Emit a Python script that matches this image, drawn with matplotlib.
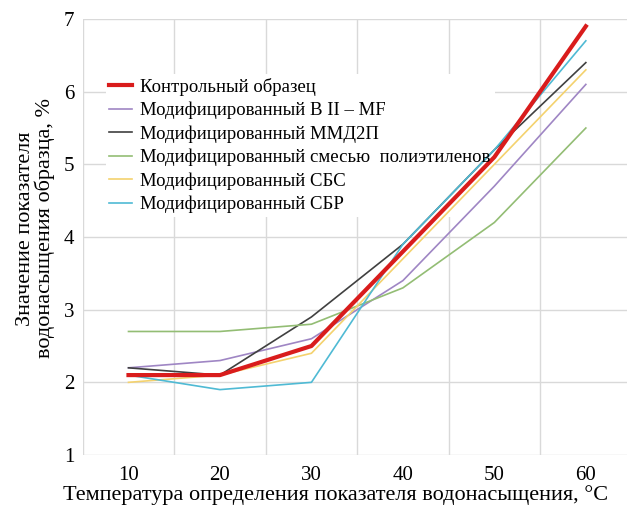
import numpy as np
from matplotlib import pyplot as plt

# температура определения, °C
temperatura = [10, 20, 30, 40, 50, 60]

# значения показателя водонасыщения, %
kontrol = [2.1, 2.1, 2.5, 3.8, 5.1, 6.9]
mod_b2mf = [2.2, 2.3, 2.6, 3.4, 4.7, 6.1]
mod_mmd2p = [2.2, 2.1, 2.9, 3.9, 5.2, 6.4]
mod_pe = [2.7, 2.7, 2.8, 3.3, 4.2, 5.5]
mod_sbs = [2.0, 2.1, 2.4, 3.7, 5.0, 6.3]
mod_sbr = [2.1, 1.9, 2.0, 3.9, 5.2, 6.7]

nomi = ["Контрольный образец",
        "Модифицированный В II – MF",
        "Модифицированный ММД2П",
        "Модифицированный смесью  полиэтиленов",
        "Модифицированный СБС",
        "Модифицированный СБР"]

plt.rcParams['font.family'] = ['Liberation Serif', 'DejaVu Serif']

fig = plt.figure(figsize=(6.27, 5.08), dpi=100)
ax = fig.add_axes([0.132, 0.1043, 0.868, 0.8583])
ax.set_axisbelow(True)

serie = [mod_b2mf, mod_mmd2p, mod_pe, mod_sbs, mod_sbr]
colori = ["#9f86c4", "#404040", "#93bd74", "#f4d26e", "#4fbad4"]
for valori, col, nome in zip(serie, colori, nomi[1:]):
    ax.plot(temperatura, valori, color=col, lw=1.2, label=nome, zorder=3)
ax.plot(temperatura, kontrol, color="#d91c1c", lw=3.0, label=nomi[0], zorder=4)

ax.set_xlim(5, 64.5)
ax.set_ylim(1, 7)
ax.set_xticks(temperatura)
ax.set_xticks([5, 15, 25, 35, 45, 55], minor=True)
ax.set_yticks(range(1, 8))
ax.grid(True, which="minor", axis="x", color="#d9d9d9", lw=1)
ax.grid(True, which="major", axis="y", color="#d9d9d9", lw=1)
ax.tick_params(which="both", length=0, labelsize=15, pad=6)
ax.tick_params(axis="x", pad=8)
for s in ax.spines.values():
    s.set_visible(False)

ax.set_xlabel("Температура определения показателя водонасыщения, °C", fontsize=16, labelpad=0)
ax.xaxis.set_label_coords(0.464, -0.07)
ax.set_ylabel("Значение показателя\nводонасыщения образца, %", fontsize=16, linespacing=0.95)
ax.yaxis.set_label_coords(-0.051, 0.52)

handles, labels = ax.get_legend_handles_labels()
order = [5, 0, 1, 2, 3, 4]
leg_opts = dict(loc="upper left", bbox_to_anchor=(0.025, 0.895), fontsize=13.5,
                handlelength=1.2, handletextpad=0.45, labelspacing=0.32,
                borderpad=0.2)
# белый фон легенды под линиями, текст легенды поверх
fondo = ax.legend([handles[i] for i in order], [labels[i] for i in order],
                  frameon=True, fancybox=False, edgecolor="none", framealpha=1,
                  **leg_opts)
fondo.set_zorder(2)
for t in fondo.get_texts():
    t.set_alpha(0)
for h in fondo.legend_handles:
    h.set_alpha(0)
ax.add_artist(fondo)
testo = ax.legend([handles[i] for i in order], [labels[i] for i in order],
                  frameon=False, **leg_opts)
testo.set_zorder(5)

plt.savefig("out.png", dpi=100)
